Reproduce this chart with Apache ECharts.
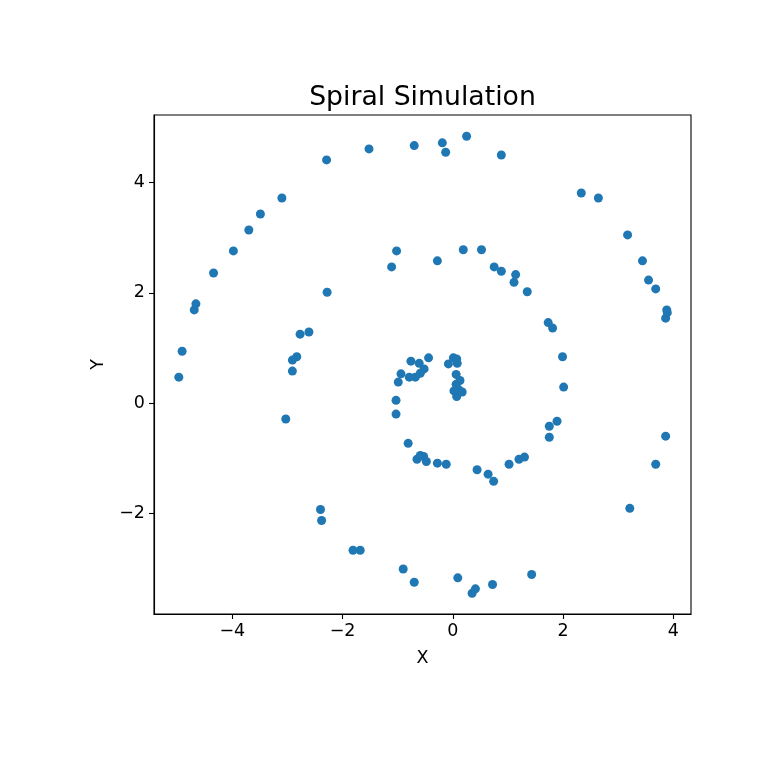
<!DOCTYPE html>
<html>
<head>
<meta charset="utf-8">
<script src="https://cdn.jsdelivr.net/npm/echarts@6/dist/echarts.min.js"></script>
<style>html,body{margin:0;padding:0;background:#fff}#c{width:768px;height:768px}</style>
</head>
<body>
<div id="c"></div>
<script>
const titleText = "Spiral Simulation";
const xLabel = "X";
const yLabel = "Y";
const xTicks = [-4, -2, 0, 2, 4];
const yTicks = [-2, 0, 2, 4];
const xs = [0.07,0.02,0.17,0.11,0.06,0.13,0.06,0.08,0.07,0.01,-0.08,-0.44,-0.52,-0.59,-0.61,-0.68,-0.76,-0.79,-0.94,-0.99,-1.03,-1.03,-0.81,-0.65,-0.59,-0.53,-0.48,-0.28,-0.12,0.44,0.64,0.74,1.02,1.20,1.30,1.75,1.75,1.89,2.01,1.99,1.81,1.73,1.35,1.11,1.14,0.88,0.75,0.52,0.19,-0.28,-1.02,-1.11,-2.28,-2.61,-2.77,-2.83,-2.91,-2.91,-3.03,-2.40,-2.38,-1.81,-1.68,-0.90,-0.70,0.09,0.35,0.41,0.72,1.43,3.21,3.68,3.86,3.86,3.88,3.89,3.68,3.55,3.44,3.17,2.64,2.33,0.88,0.25,-0.13,-0.19,-0.70,-1.52,-2.29,-3.10,-3.49,-3.70,-3.98,-4.34,-4.66,-4.69,-4.91,-4.97];
const ys = [0.12,0.22,0.20,0.24,0.34,0.41,0.52,0.72,0.80,0.82,0.71,0.82,0.62,0.54,0.72,0.47,0.76,0.47,0.53,0.38,0.05,-0.20,-0.73,-1.02,-0.95,-0.97,-1.06,-1.09,-1.11,-1.21,-1.29,-1.42,-1.11,-1.02,-0.98,-0.62,-0.42,-0.33,0.29,0.84,1.36,1.46,2.02,2.19,2.33,2.39,2.47,2.78,2.78,2.58,2.76,2.47,2.01,1.29,1.25,0.84,0.78,0.58,-0.29,-1.93,-2.13,-2.67,-2.67,-3.01,-3.25,-3.17,-3.45,-3.37,-3.29,-3.11,-1.91,-1.11,-0.60,1.54,1.69,1.64,2.07,2.23,2.58,3.05,3.72,3.81,4.50,4.84,4.55,4.72,4.67,4.61,4.41,3.72,3.43,3.14,2.76,2.36,1.80,1.69,0.94,0.47];

const pts = xs.map((x, i) => [x, ys[i]]);
const fmt = v => String(v).replace('-', '\u2212');
const font = 'DejaVu Sans';
const chart = echarts.init(document.getElementById('c'), null, {renderer: 'canvas'});
chart.setOption({
  animation: false,
  backgroundColor: '#ffffff',
  graphic: [{
    type: 'text', x: 422.5, y: 98,
    style: {text: titleText, font: '26.7px "DejaVu Sans"', fill: '#000', align: 'center', verticalAlign: 'middle'}
  }],
  grid: {left: 154, top: 115, width: 537, height: 499, show: true, borderColor: '#000', borderWidth: 1.1, backgroundColor: 'transparent'},
  xAxis: {
    type: 'value', min: -5.42, max: 4.32,
    name: xLabel, nameLocation: 'middle', nameGap: 35,
    nameTextStyle: {fontFamily: font, fontSize: 17.5, color: '#000'},
    axisLine: {show: true, onZero: false, lineStyle: {color: '#000', width: 1.1}},
    axisTick: {show: true, inside: false, length: 5, customValues: xTicks, lineStyle: {color: '#000', width: 1.1}},
    axisLabel: {customValues: xTicks, formatter: fmt, fontFamily: font, fontSize: 17.5, color: '#000', margin: 8},
    splitLine: {show: false}
  },
  yAxis: {
    type: 'value', min: -3.826, max: 5.225,
    name: yLabel, nameLocation: 'middle', nameGap: 47, nameRotate: 90,
    nameTextStyle: {fontFamily: font, fontSize: 17.5, color: '#000'},
    axisLine: {show: true, onZero: false, lineStyle: {color: '#000', width: 1.1}},
    axisTick: {show: true, inside: false, length: 5, customValues: yTicks, lineStyle: {color: '#000', width: 1.1}},
    axisLabel: {customValues: yTicks, formatter: fmt, fontFamily: font, fontSize: 17.5, color: '#000', margin: 9},
    splitLine: {show: false}
  },
  series: [{
    type: 'scatter', data: pts, symbolSize: 9,
    itemStyle: {color: '#1f77b4', opacity: 1}
  }]
});
</script>
</body>
</html>
